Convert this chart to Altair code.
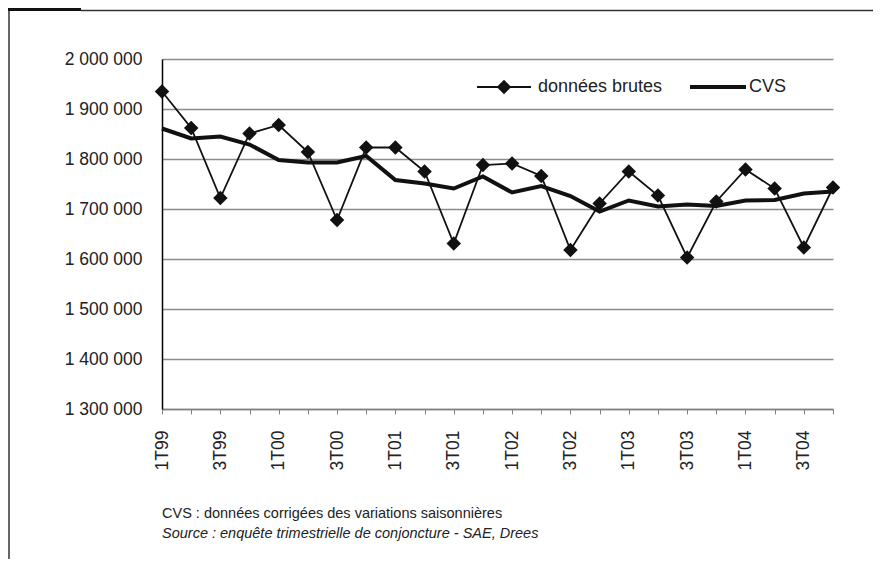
import altair as alt
import pandas as pd

quarters = ["1T99", "2T99", "3T99", "4T99",
            "1T00", "2T00", "3T00", "4T00",
            "1T01", "2T01", "3T01", "4T01",
            "1T02", "2T02", "3T02", "4T02",
            "1T03", "2T03", "3T03", "4T03",
            "1T04", "2T04", "3T04", "4T04"]

brutes = [1935000, 1862000, 1722000, 1851000,
          1868000, 1814000, 1678000, 1823000,
          1823000, 1775000, 1631000, 1788000,
          1791000, 1766000, 1618000, 1711000,
          1775000, 1727000, 1603000, 1715000,
          1779000, 1741000, 1623000, 1743000]

cvs = [1861000, 1841000, 1845000, 1829000,
       1798000, 1793000, 1793000, 1806000,
       1758000, 1751000, 1741000, 1765000,
       1733000, 1746000, 1726000, 1695000,
       1717000, 1705000, 1709000, 1706000,
       1717000, 1718000, 1731000, 1735000]

tick_labels = ["1T99", "3T99", "1T00", "3T00", "1T01", "3T01",
               "1T02", "3T02", "1T03", "3T03", "1T04", "3T04"]

y_ticks = [1300000, 1400000, 1500000, 1600000,
           1700000, 1800000, 1900000, 2000000]

legend_labels = ["données brutes", "CVS"]
notes = ["CVS : données corrigées des variations saisonnières",
         "Source : enquête trimestrielle de conjoncture - SAE, Drees"]

FONT = "Liberation Sans, Arial, sans-serif"
INK = "#111111"
TXT = "#222222"

df = pd.DataFrame({"trimestre": quarters, "brutes": brutes, "cvs": cvs})
one = pd.DataFrame({"k": [0]})

label_expr = ("indexof([" + ",".join("'%s'" % t for t in tick_labels)
              + "], datum.value) >= 0 ? datum.value : ''")

x_axis = alt.Axis(title=None, labelAngle=270, labelExpr=label_expr,
                  labelOverlap=False, labelFont=FONT, labelFontSize=17.5,
                  labelColor=TXT, labelPadding=16,
                  domainColor="#808080", domainWidth=1.5,
                  tickColor="#808080", tickWidth=1, tickSize=5,
                  grid=False)
x_scale = alt.Scale(type="point", padding=0)

y_scale = alt.Scale(domain=[1300000, 2000000], nice=False, zero=False)
y_axis = alt.Axis(title=None, values=y_ticks,
                  labelExpr="replace(format(datum.value, ','), regexp(',', 'g'), ' ')",
                  labelFont=FONT, labelFontSize=17.5, labelColor=TXT,
                  labelPadding=20, ticks=False, tickSize=0,
                  domainColor="#000000", domainWidth=1.5,
                  grid=True, gridColor="#8c8c8c", gridWidth=1.5)


def xy(field):
    return dict(
        x=alt.X("trimestre:N", sort=quarters, scale=x_scale, axis=x_axis),
        y=alt.Y(field + ":Q", scale=y_scale, axis=y_axis),
    )


cvs_line = alt.Chart(df).mark_line(color=INK, strokeWidth=4).encode(**xy("cvs"))
raw_line = alt.Chart(df).mark_line(color=INK, strokeWidth=1.8).encode(**xy("brutes"))
raw_pts = alt.Chart(df).mark_point(shape="diamond", filled=True, size=210,
                                   color=INK, opacity=1).encode(**xy("brutes"))

# legend (inside the plot, top right)
leg_rule1 = alt.Chart(one).mark_rule(color=INK, strokeWidth=1.8).encode(
    x=alt.value(315), x2=alt.value(369), y=alt.value(28))
leg_pt = alt.Chart(one).mark_point(shape="diamond", filled=True, size=210,
                                   color=INK, opacity=1).encode(
    x=alt.value(342), y=alt.value(28))
leg_txt1 = alt.Chart(one).mark_text(align="left", baseline="middle", font=FONT,
                                    fontSize=18, color=TXT).encode(
    x=alt.value(376), y=alt.value(28), text=alt.value(legend_labels[0]))
leg_rule2 = alt.Chart(one).mark_rule(color=INK, strokeWidth=4).encode(
    x=alt.value(528), x2=alt.value(584), y=alt.value(28))
leg_txt2 = alt.Chart(one).mark_text(align="left", baseline="middle", font=FONT,
                                    fontSize=18, color=TXT).encode(
    x=alt.value(587), y=alt.value(28), text=alt.value(legend_labels[1]))

# notes under the chart
note1 = alt.Chart(one).mark_text(align="left", baseline="middle", font=FONT,
                                 fontSize=14.5, color=TXT).encode(
    x=alt.value(0), y=alt.value(455), text=alt.value(notes[0]))
note2 = alt.Chart(one).mark_text(align="left", baseline="middle", font=FONT,
                                 fontSize=14.5, fontStyle="italic", color=TXT).encode(
    x=alt.value(0), y=alt.value(475), text=alt.value(notes[1]))

# frame of the figure
frame_left = alt.Chart(one).mark_rule(color="#333333", strokeWidth=1.5).encode(
    x=alt.value(-153), y=alt.value(-49), y2=alt.value(520))
frame_top = alt.Chart(one).mark_rule(color="#333333", strokeWidth=1.5).encode(
    x=alt.value(-81), x2=alt.value(760), y=alt.value(-48.5))
frame_box = alt.Chart(one).mark_rect(color="#111111").encode(
    x=alt.value(-154), x2=alt.value(-81), y=alt.value(-51), y2=alt.value(-48))

chart = alt.layer(
    cvs_line, raw_line, raw_pts,
    leg_rule1, leg_pt, leg_txt1, leg_rule2, leg_txt2,
    note1, note2, frame_left, frame_top, frame_box
).properties(
    width=671, height=350,
    padding={"left": 154, "top": 51, "right": 40, "bottom": 150},
    autosize=alt.AutoSizeParams(type="none"),
    background="white"
).configure_view(stroke=None)

chart.save("out.html", embed_options={"renderer": "svg", "actions": False})
